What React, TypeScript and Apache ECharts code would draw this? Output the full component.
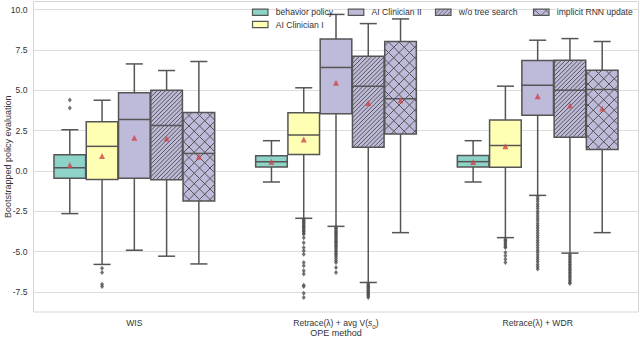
import React, { useEffect, useRef } from "react";
import * as echarts from "echarts";

const categories = ["WIS", "Retrace(λ) + avg V(s0)", "Retrace(λ) + WDR"];
const seriesNames = ["behavior policy", "AI Clinician I", "AI Clinician II", "w/o tree search", "implicit RNN update"];
const fillColors = ["#8dd3c7", "#ffffb3", "#bebada", "#bebada", "#bebada"];
const hatchKinds = ["", "", "", "/", "x"];

// [lower whisker, Q1, median, Q3, upper whisker] per category
const behaviorBoxes = [[-2.65, -0.46, 0.2, 1.0, 2.55], [-0.69, 0.24, 0.57, 0.94, 1.87], [-0.69, 0.24, 0.57, 0.96, 1.87]];
const clinician1Boxes = [[-5.8, -0.53, 1.52, 3.05, 4.38], [-2.94, 1.02, 2.22, 3.6, 5.15], [-4.14, 0.22, 1.58, 3.15, 5.25]];
const clinician2Boxes = [[-4.92, -0.46, 3.19, 4.84, 6.63], [-3.44, 3.54, 6.41, 8.18, 9.7], [-1.52, 3.45, 5.31, 6.84, 8.1]];
const noTreeBoxes = [[-5.29, -0.55, 2.82, 5.0, 6.22], [-6.92, 1.47, 5.25, 7.11, 9.13], [-5.1, 2.09, 5.0, 6.86, 8.2]];
const rnnBoxes = [[-5.77, -1.87, 1.08, 3.62, 6.78], [-3.83, 2.28, 4.47, 8.02, 9.42], [-3.83, 1.33, 5.05, 6.24, 8.02]];

const behaviorMeans = [0.36, 0.57, 0.55];
const clinician1Means = [0.92, 1.95, 1.52];
const clinician2Means = [2.05, 5.46, 4.63];
const noTreeMeans = [2.01, 4.2, 4.05];
const rnnMeans = [0.88, 4.38, 3.87];

const behaviorOutliers = [[4.4, 3.9], [], []];
const clinician1Outliers = [
  [-6.04, -6.3, -7.03, -7.17],
  [-3.0, -3.08, -3.15, -3.22, -3.3, -3.38, -3.45, -3.52, -3.6, -3.68, -3.76, -3.85, -3.93, -4.14, -4.45, -4.75, -4.96, -5.17, -5.68, -5.89, -6.2, -6.4, -7.09, -7.17, -7.58, -7.85],
  [-4.24, -4.32, -4.4, -4.5, -4.6, -4.7, -4.75, -5.06, -5.27, -5.48, -5.68],
];
const clinician2Outliers = [
  [],
  [-3.5, -3.58, -3.66, -3.74, -3.82, -3.9, -3.98, -4.06, -4.14, -4.22, -4.3, -4.38, -4.46, -4.54, -4.62, -4.7, -4.8, -4.9, -5.0, -5.1, -5.2, -5.3, -5.42, -5.55, -5.68, -5.99, -6.3],
  [-1.6, -1.75, -1.88, -2.05, -2.2, -2.33, -2.5, -2.64, -2.8, -2.95, -3.1, -3.26, -3.4, -3.55, -3.7, -3.86, -4.0, -4.15, -4.3, -4.44, -4.6, -4.75, -4.9, -5.05, -5.2, -5.36, -5.5, -5.64, -5.8, -5.95, -6.08],
];
const noTreeOutliers = [
  [],
  [-7.0, -7.08, -7.15, -7.22, -7.3, -7.38, -7.45, -7.52, -7.6, -7.68, -7.76, -7.85],
  [-5.2, -5.3, -5.4, -5.5, -5.6, -5.7, -5.8, -5.9, -6.0, -6.1, -6.2, -6.3, -6.4, -6.5, -6.6, -6.7, -6.8, -6.9, -6.98],
];
const rnnOutliers = [[], [], []];

const allBoxes = [behaviorBoxes, clinician1Boxes, clinician2Boxes, noTreeBoxes, rnnBoxes];
const allMeans = [behaviorMeans, clinician1Means, clinician2Means, noTreeMeans, rnnMeans];
const allOutliers = [behaviorOutliers, clinician1Outliers, clinician2Outliers, noTreeOutliers, rnnOutliers];

const EDGE = "#555555";
const FONT = "'Liberation Sans', Arial, sans-serif";
const TEXT = "#333333";
const SLOT = 0.16;

function hatchSegments(x0: number, y0: number, x1: number, y1: number, kind: string) {
  const segs: number[][] = [];
  const add = (s: number, dir: number) => {
    if (dir > 0) {
      const cMin = x0 + y0, cMax = x1 + y1;
      for (let c = Math.ceil(cMin / s) * s; c <= cMax; c += s) {
        const xa = Math.max(x0, c - y1), xb = Math.min(x1, c - y0);
        if (xb - xa > 0.3) segs.push([xa, c - xa, xb, c - xb]);
      }
    } else {
      const cMin = x0 - y1, cMax = x1 - y0;
      for (let c = Math.ceil(cMin / s) * s; c <= cMax; c += s) {
        const xa = Math.max(x0, c + y0), xb = Math.min(x1, c + y1);
        if (xb - xa > 0.3) segs.push([xa, xa - c, xb, xb - c]);
      }
    }
  };
  if (kind === "/") add(4.2, 1);
  if (kind === "x") { add(10.5, 1); add(10.5, -1); }
  return segs;
}

function makeRender(hue: number) {
  return (params: any, api: any) => {
    const cat = api.value(0);
    const low = api.value(1), q1 = api.value(2), med = api.value(3), q3 = api.value(4), high = api.value(5);
    const bw = api.size([1, 0])[0];
    const center = api.coord([cat, 0])[0] + (hue - 2) * bw * SLOT;
    const w = bw * SLOT * 0.98;
    const x0 = center - w / 2, x1 = center + w / 2;
    const yLow = api.coord([cat, low])[1];
    const yQ1 = api.coord([cat, q1])[1];
    const yMed = api.coord([cat, med])[1];
    const yQ3 = api.coord([cat, q3])[1];
    const yHigh = api.coord([cat, high])[1];
    const capHalf = w * 0.27;
    const lineStyle = { stroke: EDGE, lineWidth: 1.5, fill: "none" };
    const children: any[] = [
      { type: "line", shape: { x1: center, y1: yQ3, x2: center, y2: yHigh }, style: lineStyle },
      { type: "line", shape: { x1: center, y1: yQ1, x2: center, y2: yLow }, style: lineStyle },
      { type: "line", shape: { x1: center - capHalf, y1: yHigh, x2: center + capHalf, y2: yHigh }, style: lineStyle },
      { type: "line", shape: { x1: center - capHalf, y1: yLow, x2: center + capHalf, y2: yLow }, style: lineStyle },
      { type: "rect", shape: { x: x0, y: yQ3, width: w, height: yQ1 - yQ3 }, style: { fill: fillColors[hue], stroke: "none" } },
    ];
    const segs = hatchSegments(x0, yQ3, x1, yQ1, hatchKinds[hue]);
    if (segs.length) {
      const d = segs.map((s) => `M${s[0].toFixed(2)} ${s[1].toFixed(2)}L${s[2].toFixed(2)} ${s[3].toFixed(2)}`).join("");
      children.push({ type: "path", shape: { pathData: d }, style: { stroke: EDGE, lineWidth: 1, fill: "none" } });
    }
    children.push({ type: "rect", shape: { x: x0, y: yQ3, width: w, height: yQ1 - yQ3 }, style: lineStyle });
    children.push({ type: "line", shape: { x1: x0, y1: yMed, x2: x1, y2: yMed }, style: lineStyle });
    return { type: "group", children };
  };
}

function legendGraphics() {
  const slots = [
    [252.5, 12.3], [252.5, 24.5], [348.3, 12.3], [435.5, 12.3], [533.5, 12.3],
  ];
  const els: any[] = [];
  seriesNames.forEach((name, i) => {
    const [x, y] = slots[i];
    const pw = 15.5, ph = 6.2;
    els.push({ type: "rect", shape: { x, y: y - ph / 2, width: pw, height: ph }, style: { fill: fillColors[i], stroke: "none" }, z: 10 });
    hatchSegments(x, y - ph / 2, x + pw, y + ph / 2, hatchKinds[i]).forEach((s) => {
      els.push({ type: "line", shape: { x1: s[0], y1: s[1], x2: s[2], y2: s[3] }, style: { stroke: EDGE, lineWidth: 0.8 }, z: 10 });
    });
    els.push({ type: "rect", shape: { x, y: y - ph / 2, width: pw, height: ph }, style: { fill: "none", stroke: EDGE, lineWidth: 1.2 }, z: 10 });
    els.push({ type: "text", x: x + 23.3, y, style: { text: name, fill: TEXT, font: `8.6px ${FONT}`, textVerticalAlign: "middle" }, z: 10 });
  });
  return els;
}

export default function App() {
  const ref = useRef<HTMLDivElement>(null);
  useEffect(() => {
    if (!ref.current) return;
    const chart = echarts.init(ref.current, null, { renderer: "svg" });
    const boxSeries = allBoxes.map((boxes, hue) => ({
      type: "custom",
      name: seriesNames[hue],
      xAxisIndex: 0,
      yAxisIndex: 0,
      renderItem: makeRender(hue),
      encode: { x: 0, y: [1, 2, 3, 4, 5] },
      data: boxes.map((b, i) => [i, ...b]),
      z: 2,
    }));
    const meanData: number[][] = [];
    const outlierData: number[][] = [];
    allMeans.forEach((means, hue) => means.forEach((m, g) => meanData.push([g + (hue - 2) * SLOT, m])));
    allOutliers.forEach((groups, hue) => groups.forEach((vals, g) => vals.forEach((v) => outlierData.push([g + (hue - 2) * SLOT, v]))));
    chart.setOption({
      animation: false,
      textStyle: { fontFamily: FONT },
      grid: {
        left: 33.5, right: 1.5, top: 1.5, bottom: 27,
        containLabel: false, outerBoundsMode: "none",
        show: true, borderColor: "#d6d6d6", borderWidth: 1, backgroundColor: "#ffffff",
      },
      xAxis: [
        {
          type: "category",
          data: categories,
          axisLine: { show: false },
          axisTick: { show: false },
          splitLine: { show: false },
          axisLabel: {
            margin: 5,
            color: TEXT,
            fontSize: 8.6,
            fontFamily: FONT,
            formatter: (v: string) =>
              v === categories[1] ? "{t|Retrace(λ) + avg V(}{i|s}{s|0}{t|)}" : `{t|${v}}`,
            rich: {
              t: { fontSize: 8.6, color: TEXT, fontFamily: FONT, lineHeight: 12 },
              i: { fontSize: 8.6, color: TEXT, fontFamily: FONT, fontStyle: "italic", lineHeight: 12 },
              s: { fontSize: 6.2, color: TEXT, fontFamily: FONT, verticalAlign: "bottom", lineHeight: 12 },
            },
          },
          name: "OPE method",
          nameLocation: "middle",
          nameGap: 16,
          nameMoveOverlap: false,
          nameTextStyle: { color: TEXT, fontSize: 9, fontFamily: FONT },
        },
        { type: "value", min: -0.5, max: 2.5, show: false },
      ],
      yAxis: {
        type: "value",
        min: -8.75,
        max: 10.5,
        interval: 1.25,
        axisLine: { show: false },
        axisTick: { show: false },
        axisLabel: {
          margin: 6,
          color: TEXT,
          fontSize: 8.6,
          fontFamily: FONT,
          formatter: (v: number) => (Math.abs(v / 2.5 - Math.round(v / 2.5)) < 1e-6 && v < 10.4 ? v.toFixed(1) : ""),
        },
        splitLine: { show: true, lineStyle: { color: ["rgba(0,0,0,0)", "#dcdcdc"], width: 1 } },
        name: "Bootstrapped policy evaluation",
        nameLocation: "middle",
        nameGap: 21,
        nameMoveOverlap: false,
        nameTextStyle: { color: TEXT, fontSize: 9, fontFamily: FONT },
      },
      series: [
        ...boxSeries,
        {
          type: "scatter",
          name: "outliers",
          xAxisIndex: 1,
          yAxisIndex: 0,
          symbol: "diamond",
          symbolSize: [4, 5],
          itemStyle: { color: "#505050" },
          data: outlierData,
          z: 3,
        },
        {
          type: "scatter",
          name: "mean",
          xAxisIndex: 1,
          yAxisIndex: 0,
          symbol: "triangle",
          symbolSize: 6,
          itemStyle: { color: "#d0454a" },
          data: meanData,
          z: 4,
        },
      ],
      graphic: legendGraphics(),
    });
    return () => chart.dispose();
  }, []);
  return <div ref={ref} style={{ width: 640, height: 339, position: "absolute", left: 0, top: 0 }} />;
}
